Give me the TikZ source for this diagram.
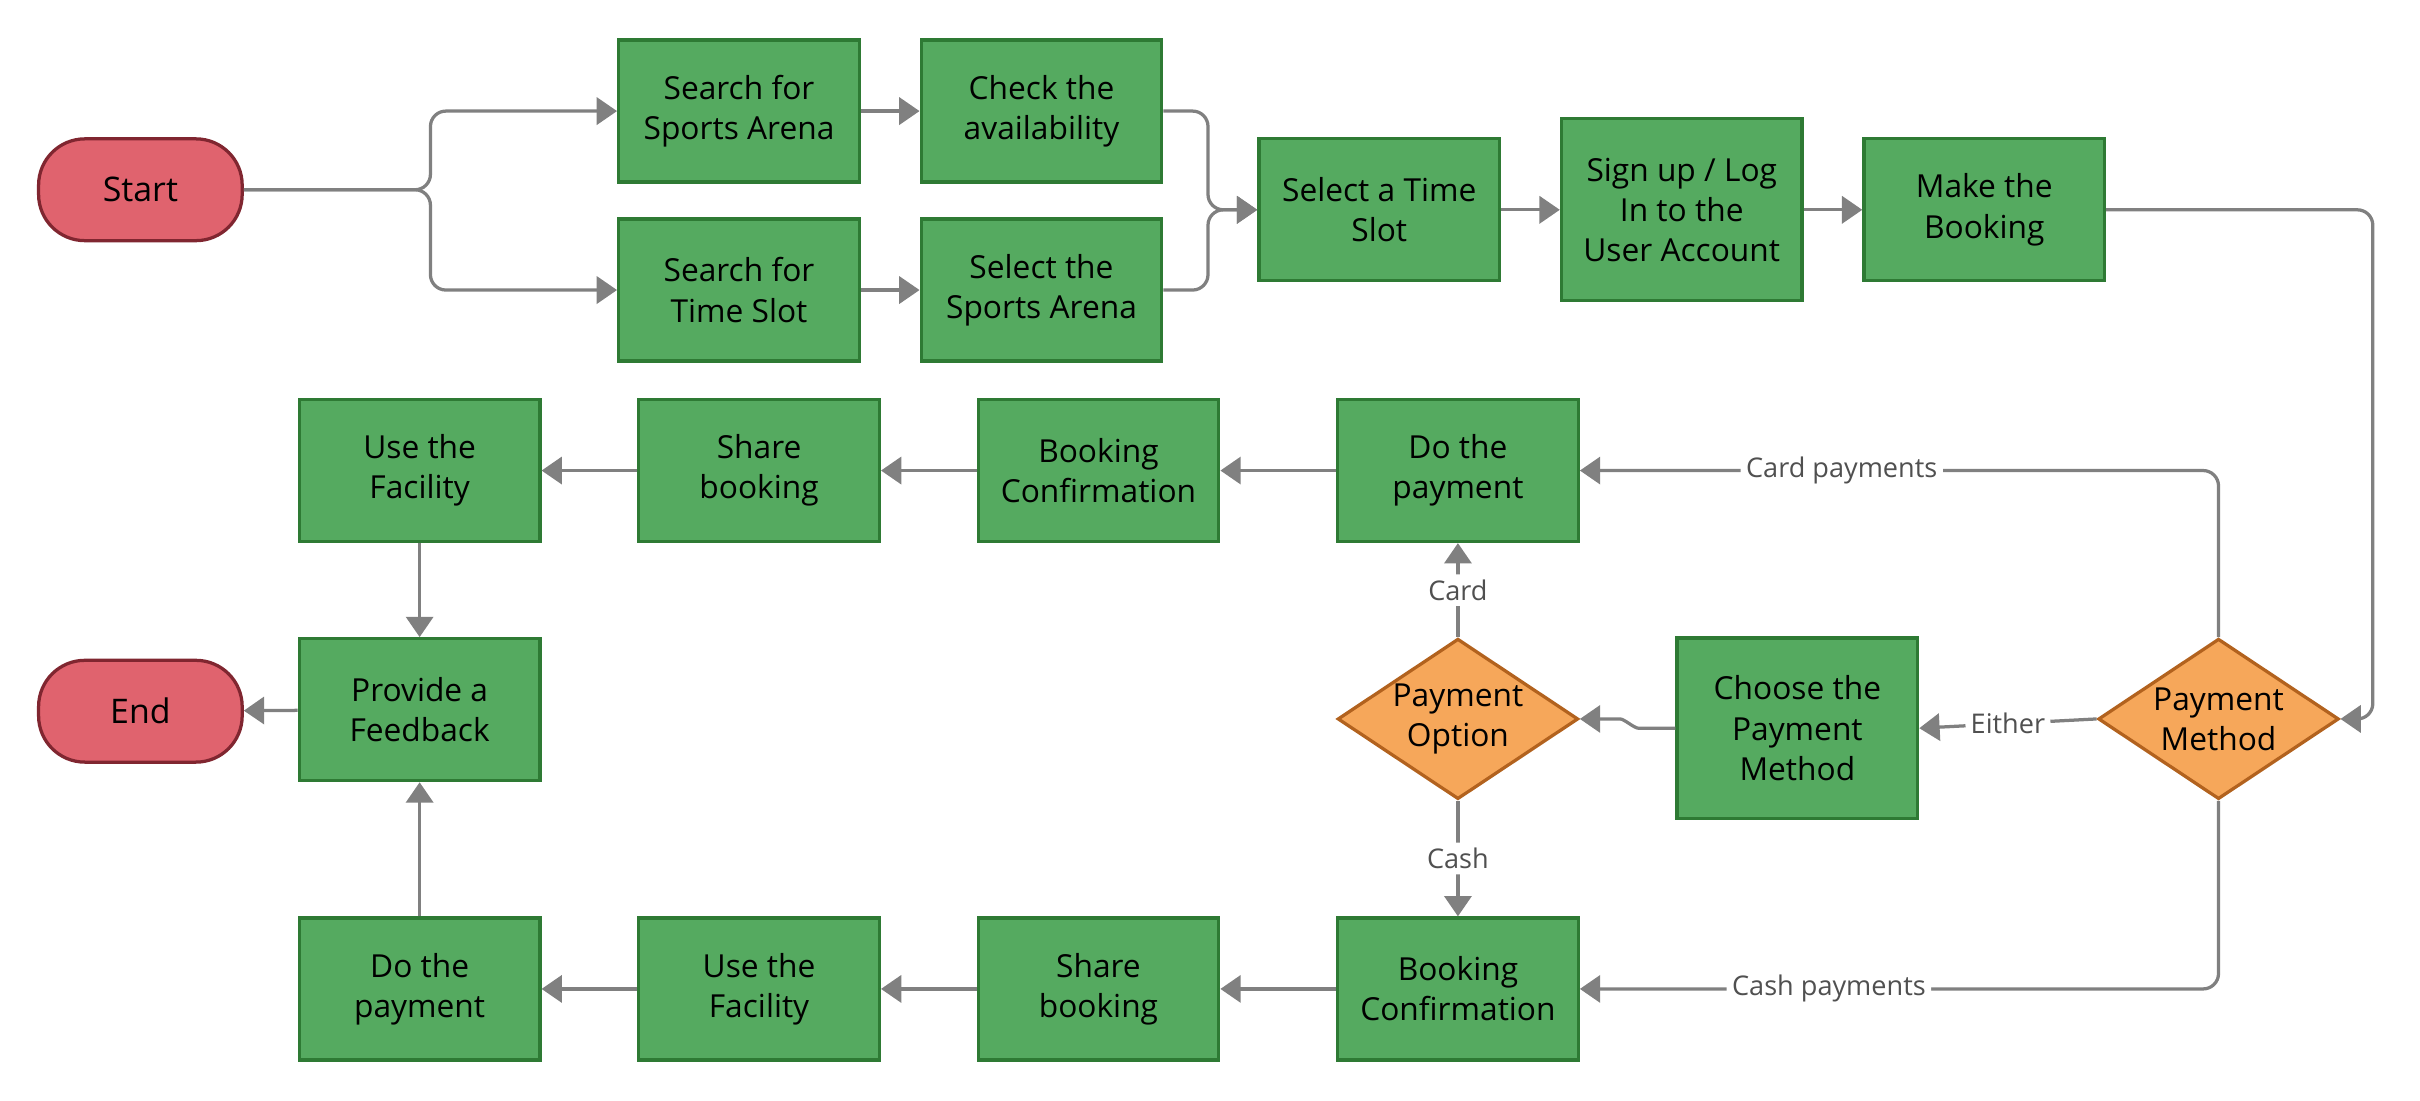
\documentclass[tikz,border=0pt]{standalone}
\usepackage{fontspec}
\setmainfont{Open Sans}
\usetikzlibrary{calc,arrows.meta,positioning,shapes.geometric}
\definecolor{boxgreen}{RGB}{85,170,96}
\definecolor{boxedge}{RGB}{46,122,52}
\definecolor{termred}{RGB}{224,99,110}
\definecolor{termedge}{RGB}{128,38,48}
\definecolor{decorange}{RGB}{246,167,90}
\definecolor{decedge}{RGB}{178,98,30}
\definecolor{linegray}{RGB}{128,128,128}
\definecolor{labelgray}{RGB}{80,80,80}

\begin{document}
\begin{tikzpicture}[x=0.02cm,y=-0.02cm,>={Triangle[length=7.5pt,width=10pt]},
  node distance=0.76cm,
  box/.style={rectangle,draw=boxedge,fill=boxgreen,line width=1.2pt,minimum width=3.12cm,minimum height=1.84cm,inner sep=0pt,align=center,font=\fontsize{11.7}{14.8}\selectfont},
  term/.style={rectangle,rounded corners=0.6cm,draw=termedge,fill=termred,line width=1.2pt,minimum width=2.64cm,minimum height=1.32cm,font=\fontsize{12.5}{15}\selectfont},
  decide/.style={diamond,draw=decedge,fill=decorange,line width=1.2pt,minimum width=3.12cm,minimum height=2.08cm,inner sep=0pt,aspect=1.5,align=center,font=\fontsize{11.7}{14.8}\selectfont},
  flow/.style={->,draw=linegray,color=linegray,line width=1.2pt,rounded corners=0.2cm},
  lbl/.style={fill=white,text=labelgray,inner sep=2pt,font=\fontsize{10}{12}\selectfont}]
  \useasboundingbox (0,0) rectangle (1568.6,713);

  % first part
  \node[term] (start) at (91,123) {Start};
  \node[box] (ssa) at (479,72) {Search for\\Sports Arena};
  \node[box] (chk) [right=of ssa] {Check the\\availability};
  \node[box] (sts) at (479,188) {Search for\\Time Slot};
  \node[box] (ssel) [right=of sts] {Select the\\Sports Arena};
  \node[box] (slot) at (894,136) {Select a Time\\Slot};
  \node[box, minimum height=2.36cm] (sign) [right=of slot] {Sign up / Log\\In to the\\User Account};
  \node[box] (book) [right=of sign] {Make the\\Booking};

  % payment
  \node[decide] (pm) at (1438,466) {Payment\\Method};
  \node[box, minimum height=2.34cm] (choose) at (1165,472) {Choose the\\Payment\\Method};
  \node[decide] (popt) at (945,466) {Payment\\Option};

  % card row
  \node[box] (pay1) at (945,305) {Do the\\payment};
  \node[box] (conf1) at (712,305) {Booking\\Confirmation};
  \node[box] (share1) at (492,305) {Share\\booking};
  \node[box] (use1) at (272,305) {Use the\\Facility};
  \node[box] (fb) at (272,460) {Provide a\\Feedback};
  \node[term] (stop) at (91,461) {End};

  % cash row
  \node[box] (conf2) at (945,641) {Booking\\Confirmation};
  \node[box] (share2) at (712,641) {Share\\booking};
  \node[box] (use2) at (492,641) {Use the\\Facility};
  \node[box] (pay2) at (272,641) {Do the\\payment};

  \coordinate (fork) at (279,123);
  \coordinate (join) at (783,136);
  \coordinate (turn) at (1538,136);

  \draw[flow] (start.east) -- (fork) |- (ssa.west);
  \draw[flow] (start.east) -- (fork) |- (sts.west);
  \draw[flow] (chk.east) -| (join) -- (slot.west);
  \draw[flow] (ssel.east) -| (join) -- (slot.west);
  \draw[flow] (book.east) -- (turn) |- (pm.east);
  \draw[flow] (pm.north) |- node[lbl,pos=0.795] {Card payments} (pay1.east);
  \draw[flow] (pm.south) |- node[lbl,pos=0.805] {Cash payments} (conf2.east);
  \draw[flow] (pm.west) -- node[lbl] {Either} (choose.east);
  \draw[flow] (choose.west) -- ++(-14,0) to[out=180,in=0] ($(popt.east)+(16,0)$) -- (popt.east);

  \path[flow]
    (ssa) edge (chk)
    (sts) edge (ssel)
    (slot) edge (sign)
    (sign) edge (book)
    (popt) edge node[lbl] {Card} (pay1)
    (popt) edge node[lbl] {Cash} (conf2)
    (pay1) edge (conf1)
    (conf1) edge (share1)
    (share1) edge (use1)
    (use1) edge (fb)
    (conf2) edge (share2)
    (share2) edge (use2)
    (use2) edge (pay2)
    (pay2) edge (fb)
    (fb) edge (stop);
\end{tikzpicture}
\end{document}
